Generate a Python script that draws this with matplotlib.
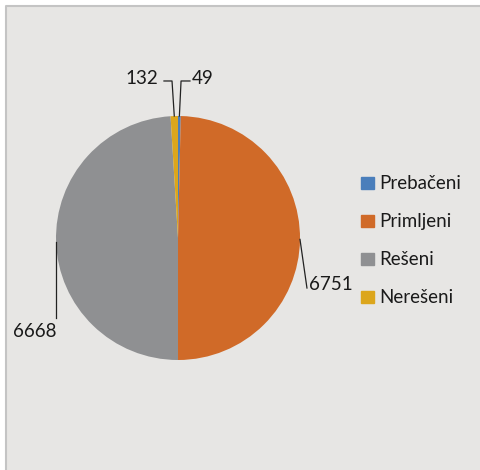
import matplotlib
matplotlib.use("Agg")
import matplotlib.pyplot as plt
from matplotlib.patches import Rectangle, Patch
from matplotlib.lines import Line2D
import numpy as np

categories = ["Prebačeni", "Primljeni", "Rešeni", "Nerešeni"]
values = [49, 6751, 6668, 132]
colors = ["#4a7ebb", "#d06a28", "#8f9092", "#dca61c"]

plt.rcParams['font.family'] = ['Lato', 'DejaVu Sans']

W, H = 480, 470
fig = plt.figure(figsize=(W / 100, H / 100), dpi=100)
fig.patch.set_facecolor("white")
# panel background
fig.add_artist(Rectangle((6 / W, 0), 1 - 6 / W, 1 - 6 / H, transform=fig.transFigure,
                         facecolor="#e7e6e4", edgecolor="none", zorder=0))
fig.add_artist(Line2D([6 / W, 6 / W, 1], [0, 1 - 6 / H, 1 - 6 / H], transform=fig.transFigure,
                      color="#c4c4c4", lw=1.5, zorder=0.5))

cx, cy, r = 178, 238, 122
ax = fig.add_axes([(cx - r) / W, (H - cy - r) / H, 2 * r / W, 2 * r / H])

wedges, _ = ax.pie(values, colors=colors, startangle=90, counterclock=False,
                   radius=1, wedgeprops=dict(linewidth=0))
ax.set_xlim(-1, 1)
ax.set_ylim(-1, 1)
ax.set_aspect("equal")
ax.axis("off")

def edge(w, frac=0.5):
    a = np.deg2rad(w.theta1 + (w.theta2 - w.theta1) * frac)
    return np.cos(a), np.sin(a)

fs = 13.5
lc = "#222222"
tc = "#1a1a1a"
# Prebačeni (49)
x0, y0 = edge(wedges[0])
ax.plot([x0, 0.025, 0.098], [y0, 1.287, 1.287], color=lc, lw=0.9, clip_on=False)
ax.text(0.11, 1.31, str(values[0]), ha="left", va="center", fontsize=fs, color=tc)
# Nerešeni (132)
x0, y0 = edge(wedges[3])
ax.plot([x0, -0.049, -0.115], [y0, 1.287, 1.287], color=lc, lw=0.9, clip_on=False)
ax.text(-0.16, 1.31, str(values[3]), ha="right", va="center", fontsize=fs, color=tc)
# Primljeni (6751)
x0, y0 = edge(wedges[1])
ax.plot([x0, 1.057], [y0, -0.41], color=lc, lw=0.9, clip_on=False)
ax.text(1.07, -0.385, str(values[1]), ha="left", va="center", fontsize=fs, color=tc)
# Rešeni (6668)
x0, y0 = edge(wedges[2])
ax.plot([x0, x0], [y0, -0.656], color=lc, lw=0.9, clip_on=False)
ax.text(-1.0, -0.77, str(values[2]), ha="right", va="center", fontsize=fs, color=tc)

handles = [Patch(facecolor=c, edgecolor=c) for c in colors]
fig.legend(handles, categories, loc="upper left", bbox_to_anchor=(352 / W, 1 - 166 / H),
           frameon=False, fontsize=fs, handlelength=0.65, handleheight=0.65,
           handletextpad=0.3, labelspacing=1.12, borderpad=0, labelcolor=tc)

fig.savefig("out.png", dpi=100, facecolor="white")
